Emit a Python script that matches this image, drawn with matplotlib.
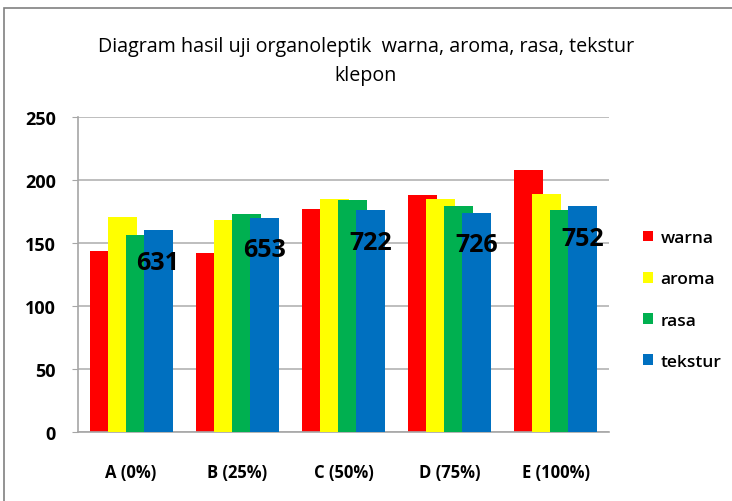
import numpy as np
import matplotlib.pyplot as plt
from matplotlib.patches import Rectangle

categories = ["A (0%)", "B (25%)", "C (50%)", "D (75%)", "E (100%)"]
warna = [144, 142, 177, 188, 208]
aroma = [171, 168, 185, 185, 189]
rasa = [156, 173, 184, 179, 176]
tekstur = [160, 170, 176, 174, 179]
totals = ["631", "653", "722", "726", "752"]
series_names = ["warna", "aroma", "rasa", "tekstur"]
colors = ["#ff0000", "#ffff00", "#00b050", "#0070c0"]

plt.rcParams["font.family"] = ["Open Sans", "DejaVu Sans"]

W, H = 732, 502
fig = plt.figure(figsize=(W / 100, H / 100), dpi=100)

# chart border (only top and left visible)
fig.patches.append(Rectangle((4 / W, -0.1), 1.2, 1 - 9 / H + 0.1, transform=fig.transFigure,
                             fill=False, edgecolor="#808080", linewidth=1.2))

ax = fig.add_axes([78 / W, (H - 433) / H, (609 - 78) / W, (433 - 118) / H])
x = np.arange(len(categories))
step = 0.1695
width = 0.273
for i, (vals, name) in enumerate(zip([warna, aroma, rasa, tekstur], series_names)):
    ax.bar(x + (i - 1.5) * step, vals, width=width, color=colors[i], label=name, zorder=2 + i)

for xi, v, t in zip(x, tekstur, totals):
    ax.annotate(t, (xi + 1.5 * step, v), xytext=(0, -23), textcoords="offset points",
                ha="center", va="center", fontsize=18, fontweight="bold", zorder=10)

ax.set_xlim(-0.5, len(categories) - 0.5)
ax.set_ylim(0, 250)
ax.set_yticks(range(0, 251, 50))
ax.set_xticks(x)
ax.set_xticklabels(categories)
ax.grid(axis="y", color="#b3b3b3", linewidth=1.2, zorder=0)
ax.set_axisbelow(True)
for s in ["top", "right"]:
    ax.spines[s].set_visible(False)
for s in ["left", "bottom"]:
    ax.spines[s].set_color("#a6a6a6")
    ax.spines[s].set_linewidth(1.2)
ax.tick_params(axis="y", length=4, color="#a6a6a6", pad=12, labelsize=13)
ax.tick_params(axis="x", length=0, pad=22, labelsize=12)
for lab in ax.get_xticklabels() + ax.get_yticklabels():
    lab.set_fontweight("bold")

fig.text(366 / W, 1 - 47 / H, "Diagram hasil uji organoleptik  warna, aroma, rasa, tekstur",
         ha="center", va="center", fontsize=14.2)
fig.text(366 / W, 1 - 76 / H, "klepon", ha="center", va="center", fontsize=14.2)

leg = fig.legend(loc="center left", bbox_to_anchor=(643 / W, 1 - 301 / H), frameon=False,
                 fontsize=12.5, handlelength=0.55, handleheight=0.55, handletextpad=0.45,
                 labelspacing=1.45, borderpad=0, borderaxespad=0)
for t in leg.get_texts():
    t.set_fontweight("semibold")

fig.savefig("out.png", dpi=100)
